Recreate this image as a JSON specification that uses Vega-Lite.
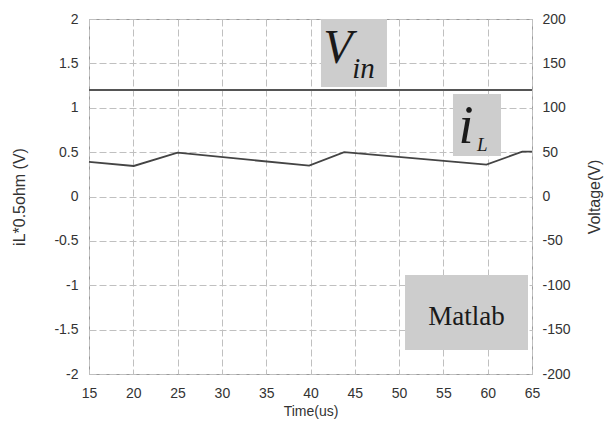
{
  "$schema": "https://vega.github.io/schema/vega-lite/v6.json",
  "width": 443,
  "height": 355,
  "autosize": {"type": "none"},
  "padding": {"left": 89, "top": 19, "right": 82, "bottom": 50},
  "background": "#ffffff",
  "config": {
    "view": {"stroke": "#9a9a9a", "strokeWidth": 1},
    "axis": {
      "labelFont": "Liberation Sans",
      "labelFontSize": 14,
      "labelColor": "#333333",
      "titleFont": "Liberation Sans",
      "titleFontSize": 14,
      "titleFontWeight": "normal",
      "titleColor": "#333333",
      "ticks": false,
      "tickSize": 0,
      "domain": false,
      "gridColor": "#c0c0c0",
      "gridDash": [7, 3],
      "gridWidth": 1,
      "gridOpacity": 1
    }
  },
  "layer": [
    {
      "layer": [
        {
          "data": {"values": [
            {"x": 41.18, "x2": 48.63, "y": 2.0, "y2": 1.234},
            {"x": 56.08, "x2": 61.5, "y": 1.155, "y2": 0.456},
            {"x": 50.67, "x2": 64.55, "y": -0.885, "y2": -1.73}
          ]},
          "mark": {"type": "rect", "fill": "#cdcdcd", "stroke": null},
          "encoding": {
            "x": {"field": "x", "type": "quantitative", "scale": {"domain": [15, 65], "nice": false},
              "axis": {"values": [15, 20, 25, 30, 35, 40, 45, 50, 55, 60, 65], "title": "Time(us)", "labelPadding": 12, "titlePadding": 4, "grid": true, "labelFlush": false}},
            "x2": {"field": "x2"},
            "y": {"field": "y", "type": "quantitative", "scale": {"domain": [-2, 2], "nice": false},
              "axis": {"orient": "left", "values": [-2, -1.5, -1, -0.5, 0, 0.5, 1, 1.5, 2], "labelExpr": "datum.value + ''", "title": "iL*0.5ohm (V)", "titleFontSize": 16, "labelPadding": 11, "titlePadding": 26, "grid": true, "labelFlush": false}},
            "y2": {"field": "y2"}
          }
        },
        {
          "data": {"values": [
            {"t": 15, "iL": 0.389},
            {"t": 20.05, "iL": 0.344},
            {"t": 25.0, "iL": 0.494},
            {"t": 39.85, "iL": 0.347},
            {"t": 43.8, "iL": 0.5},
            {"t": 59.86, "iL": 0.36},
            {"t": 63.9, "iL": 0.505},
            {"t": 65, "iL": 0.505}
          ]},
          "mark": {"type": "line", "color": "#444444", "strokeWidth": 1.8},
          "encoding": {
            "x": {"field": "t", "type": "quantitative"},
            "y": {"field": "iL", "type": "quantitative"}
          }
        },
        {
          "data": {"values": [
            {"x": 43.1, "y": 1.504, "label": "V", "size": 48},
            {"x": 57.55, "y": 0.603, "label": "i", "size": 54}
          ]},
          "mark": {"type": "text", "font": "Liberation Serif", "fontStyle": "italic", "align": "center", "baseline": "alphabetic", "color": "#1a1a1a"},
          "encoding": {
            "x": {"field": "x", "type": "quantitative"},
            "y": {"field": "y", "type": "quantitative"},
            "text": {"field": "label"},
            "size": {"field": "size", "type": "quantitative", "scale": null}
          }
        },
        {
          "data": {"values": [
            {"x": 44.7, "y": 1.335, "label": "in", "size": 29},
            {"x": 58.8, "y": 0.513, "label": "L", "size": 19}
          ]},
          "mark": {"type": "text", "font": "Liberation Serif", "fontStyle": "italic", "align": "left", "baseline": "alphabetic", "color": "#1a1a1a"},
          "encoding": {
            "x": {"field": "x", "type": "quantitative"},
            "y": {"field": "y", "type": "quantitative"},
            "text": {"field": "label"},
            "size": {"field": "size", "type": "quantitative", "scale": null}
          }
        },
        {
          "data": {"values": [
            {"x": 57.6, "y": -1.448, "label": "Matlab"}
          ]},
          "mark": {"type": "text", "font": "Liberation Serif", "fontSize": 27, "align": "center", "baseline": "alphabetic", "color": "#1a1a1a"},
          "encoding": {
            "x": {"field": "x", "type": "quantitative"},
            "y": {"field": "y", "type": "quantitative"},
            "text": {"field": "label"}
          }
        }
      ]
    },
    {
      "data": {"values": [
        {"t": 15, "Vin": 120},
        {"t": 65, "Vin": 120}
      ]},
      "mark": {"type": "line", "color": "#555555", "strokeWidth": 2.2},
      "encoding": {
        "x": {"field": "t", "type": "quantitative"},
        "y": {"field": "Vin", "type": "quantitative", "scale": {"domain": [-200, 200], "nice": false},
          "axis": {"orient": "right", "values": [-200, -150, -100, -50, 0, 50, 100, 150, 200], "labelExpr": "datum.value + ''", "title": "Voltage(V)", "titleFontSize": 16, "titleAngle": -90, "labelPadding": 10, "titlePadding": 32, "grid": false, "labelFlush": false}}
      }
    }
  ],
  "resolve": {"scale": {"y": "independent"}}
}
